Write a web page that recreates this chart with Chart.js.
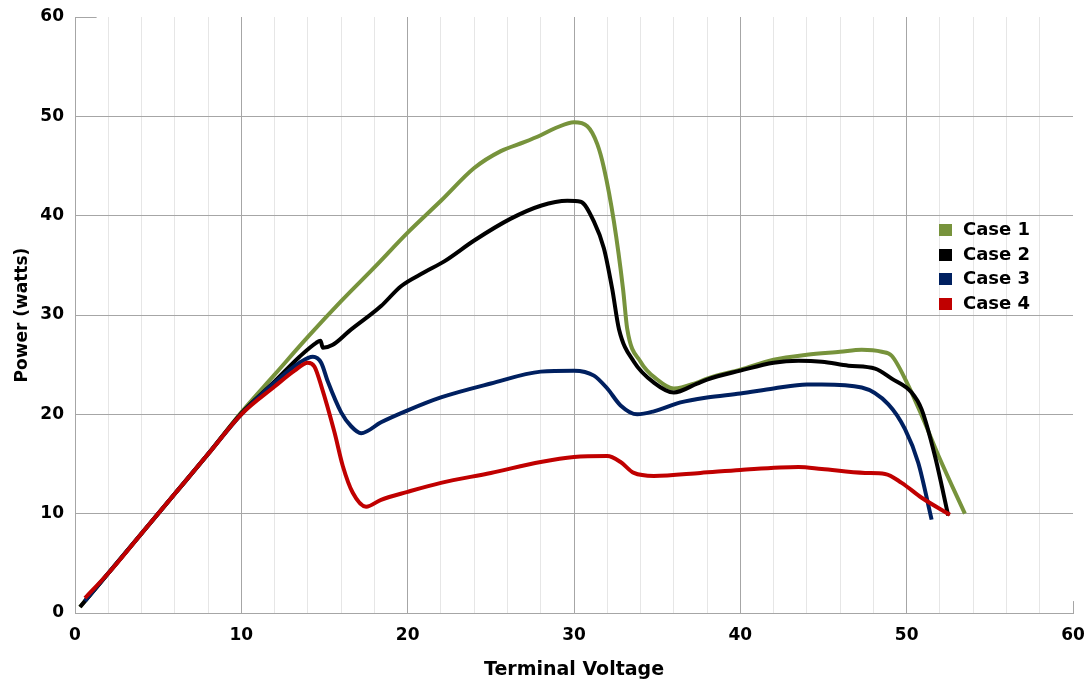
<!DOCTYPE html>
<html>
<head>
<meta charset="utf-8">
<script src="https://cdn.jsdelivr.net/npm/chart.js@4"></script>
<style>
  body { margin: 0; background: #fff; }
  #wrap { position: relative; width: 1089px; height: 682px; }
  #legend { position: absolute; left: 939px; top: 217px; font: bold 18px "DejaVu Sans", sans-serif; color: #000; }
  #legend div { height: 24.5px; line-height: 24.5px; white-space: nowrap; }
  #legend span.box { display: inline-block; width: 13px; height: 12px; margin-right: 11px; vertical-align: -1px; }
</style>
</head>
<body>
<div id="wrap">
  <canvas id="canvas" width="1089" height="682"></canvas>
  <div id="legend"></div>
</div>
<script>
// series labels and colours
var labels = ['Case 1', 'Case 2', 'Case 3', 'Case 4']
var colors = ['rgb(119, 147, 60)', 'rgb(0, 0, 0)', 'rgb(0, 32, 96)', 'rgb(192, 0, 0)']

// [terminal voltage, power]
var case1 = [[0.3,0.6],[2,4],[4,8],[6,12],[8,16],[10,20.2],[12,24],[14,27.8],[16,31.4],[18,34.8],[20,38.3],[22,41.5],[24,44.8],[25.6,46.5],[27,47.4],[28,48.1],[29,48.9],[30,49.4],[30.8,49.0],[31.4,47.2],[31.8,44.8],[32.4,39.4],[32.95,32.6],[33.2,28.6],[34,25.3],[35,23.5],[36,22.6],[37.4,23.2],[38,23.6],[40,24.5],[42,25.5],[44,26],[46,26.3],[47.3,26.5],[48.5,26.3],[49.1,25.9],[50.1,22.9],[51,19.5],[52,15.5],[53.5,10]]
var case2 = [[0.3,0.6],[2,4],[4,8],[6,12],[8,16],[10,20.1],[12,23.3],[13.5,25.8],[14.5,27.2],[14.76,27.4],[14.9,26.7],[15.5,27],[16.5,28.4],[18.4,30.9],[19.6,32.9],[21,34.3],[22.2,35.4],[24,37.5],[26.2,39.7],[28,41.0],[29.6,41.5],[30.4,41.4],[31.2,39.4],[31.8,36.7],[32.3,32.6],[32.7,28.6],[33.6,25.3],[34.8,23.2],[36,22.2],[37.4,23.1],[38,23.5],[40,24.4],[42,25.2],[43.5,25.4],[44.9,25.3],[46.5,24.9],[48.1,24.6],[49.1,23.6],[50.3,22.2],[50.9,20.5],[51.7,15.8],[52.5,9.8]]
var case3 = [[0.6,1.2],[2,4],[4,8],[6,12],[8,16],[10,20],[12,23.2],[13.5,25.2],[14.3,25.8],[14.8,25.2],[15.2,23.3],[16,20.2],[16.6,18.8],[17.2,18.1],[18.4,19.2],[20,20.4],[22,21.7],[25,23.1],[28,24.3],[30,24.4],[31.2,23.9],[32,22.6],[32.8,20.9],[33.8,20.0],[34.8,20.3],[36.4,21.2],[38,21.7],[40,22.1],[42,22.6],[44,23.0],[44.9,23.0],[47.3,22.7],[48.9,21.0],[49.9,18.5],[50.7,15.1],[51.5,9.4]]
var case4 = [[0.6,1.5],[2,4],[4,8],[6,12],[8,16],[10,20],[12,22.8],[13.2,24.4],[14,25.2],[14.4,24.8],[14.8,22.9],[15.6,18.2],[16.1,14.8],[16.7,12.1],[17.5,10.7],[18.4,11.4],[20,12.2],[22,13.1],[25,14.1],[28,15.2],[30,15.7],[32,15.8],[32.8,15.2],[33.6,14.1],[34.8,13.8],[37.6,14.1],[40,14.4],[43.5,14.7],[44.9,14.5],[47.5,14.1],[48.7,14.0],[49.7,13.1],[50.9,11.6],[52.6,9.9]]

var xMax = 60
var yMax = 60
var xStep = 2
var yStep = 10

var series = [case1, case2, case3, case4]
var majorGrid = 'rgb(166, 166, 166)'
var minorGrid = 'rgb(230, 230, 230)'

// legend
var legendHtml = ''
for (var i = 0; i < labels.length; i++) {
    legendHtml += '<div><span class="box" style="background:' + colors[i] + '"></span>' + labels[i] + '</div>'
}
document.getElementById('legend').innerHTML = legendHtml

// short stubs at the top-left and bottom-right corners
var stubs = {
    id: 'stubs',
    afterDraw: function(chart) {
        var c = chart.ctx
        var x = chart.scales.x
        var y = chart.scales.y
        c.save()
        c.strokeStyle = majorGrid
        c.lineWidth = 1
        c.beginPath()
        var top = Math.round(y.getPixelForValue(yMax)) + 0.5
        c.moveTo(x.getPixelForValue(0), top)
        c.lineTo(x.getPixelForValue(1.3), top)
        var right = Math.round(x.getPixelForValue(xMax)) + 0.5
        c.moveTo(right, y.getPixelForValue(0))
        c.lineTo(right, y.getPixelForValue(1.2))
        c.stroke()
        c.restore()
    }
}

var ctx = document.getElementById('canvas').getContext('2d')
var config = {
    type: 'scatter',
    data: {
        datasets: series.map(function(s, i) {
            return {
                label: labels[i],
                data: s.map(function(p) { return {x: p[0], y: p[1]} }),
                showLine: true,
                borderColor: colors[i],
                backgroundColor: colors[i],
                borderWidth: 4,
                pointRadius: 0,
                cubicInterpolationMode: 'monotone',
                order: labels.length - i
            }
        })
    },
    options: {
        responsive: false,
        animation: false,
        layout: { padding: { left: 0, right: 16, top: 17, bottom: 0 } },
        plugins: { legend: { display: false }, tooltip: { enabled: false } },
        scales: {
            x: {
                type: 'linear',
                min: 0, max: xMax,
                afterFit: function(s) { s.height = 69; s.paddingLeft = 0; s.paddingRight = 0 },
                border: { color: majorGrid },
                grid: {
                    drawTicks: false,
                    color: function(c) {
                        var v = c.tick.value
                        if (v === xMax) return 'rgba(0,0,0,0)'
                        return v % 10 === 0 ? majorGrid : minorGrid
                    }
                },
                ticks: {
                    stepSize: xStep,
                    autoSkip: false,
                    maxRotation: 0,
                    padding: 12,
                    color: '#000',
                    font: { family: 'DejaVu Sans', size: 17, weight: 'bold' },
                    callback: function(v) { return v % 10 === 0 ? v : '' }
                },
                title: {
                    display: true,
                    text: 'Terminal Voltage',
                    color: '#000',
                    font: { family: 'DejaVu Sans', size: 19, weight: 'bold' },
                    padding: { top: 0, bottom: 1 }
                }
            },
            y: {
                min: 0, max: yMax,
                afterFit: function(s) { s.width = 75; s.paddingTop = 0; s.paddingBottom = 0 },
                border: { color: majorGrid },
                grid: {
                    drawTicks: false,
                    color: function(c) {
                        return c.tick.value === yMax ? 'rgba(0,0,0,0)' : majorGrid
                    }
                },
                ticks: {
                    stepSize: yStep,
                    padding: 11,
                    color: '#000',
                    font: { family: 'DejaVu Sans', size: 17, weight: 'bold' }
                },
                title: {
                    display: true,
                    text: 'Power (watts)',
                    color: '#000',
                    font: { family: 'DejaVu Sans', size: 17, weight: 'bold' },
                    padding: { top: 12, bottom: 0 }
                }
            }
        }
    },
    plugins: [stubs]
}

var mychart = new Chart(ctx, config)
</script>
</body>
</html>
